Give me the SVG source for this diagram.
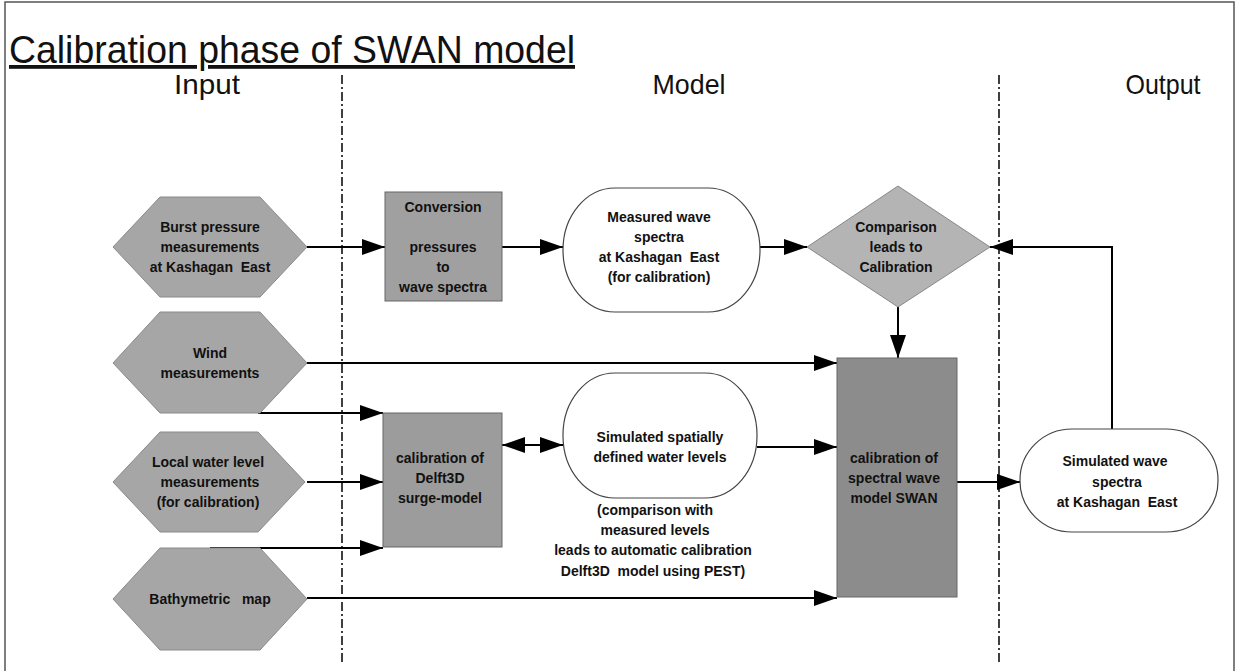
<svg xmlns="http://www.w3.org/2000/svg" width="1237" height="671" viewBox="0 0 1237 671">
<style>
.t{font-family:"Liberation Sans",Arial,sans-serif;font-size:14px;font-weight:bold;fill:#111;text-anchor:middle;white-space:pre}
.h{font-family:"Liberation Sans",Arial,sans-serif;font-size:28px;fill:#111;text-anchor:middle}
.hex{fill:#a6a6a6;stroke:#8a8a8a;stroke-width:1}
.box{stroke:#666;stroke-width:1}
.oval{fill:#fff;stroke:#444;stroke-width:1.2}
.c{fill:none;stroke:#000;stroke-width:2}
.div{stroke:#000;stroke-width:1.5;stroke-dasharray:9 3 2 3}
</style>
<defs>
<marker id="ah" markerUnits="userSpaceOnUse" markerWidth="24" markerHeight="18" refX="23" refY="9" orient="auto-start-reverse" viewBox="0 0 24 18"><path d="M0,1 L23,9 L0,17 z" fill="#000"/></marker>
</defs>
<rect width="1237" height="671" fill="#fff"/>
<rect x="5" y="2" width="1229" height="672" fill="none" stroke="#555" stroke-width="1.5"/>
<text x="9" y="63" font-family="'Liberation Sans',Arial,sans-serif" font-size="38" fill="#111" text-decoration="underline" textLength="566" lengthAdjust="spacingAndGlyphs">Calibration phase of SWAN model</text>
<g id="headers">
<text class="h" x="207" y="94" textLength="66" lengthAdjust="spacingAndGlyphs">Input</text>
<text class="h" x="689" y="94" textLength="73" lengthAdjust="spacingAndGlyphs">Model</text>
<text class="h" x="1163" y="94" textLength="75" lengthAdjust="spacingAndGlyphs">Output</text>
</g>
<g id="dividers">
<line class="div" x1="342" y1="75" x2="342" y2="664"/>
<line class="div" x1="999" y1="75" x2="999" y2="662"/>
</g>
<g id="connectors">
<path class="c" d="M307,247 H385" marker-end="url(#ah)"/>
<path class="c" d="M502,247 H563" marker-end="url(#ah)"/>
<path class="c" d="M760,247 H807" marker-end="url(#ah)"/>
<path class="c" d="M1112,429 V247 H990" marker-end="url(#ah)"/>
<path class="c" d="M307,363 H837" marker-end="url(#ah)"/>
<path class="c" d="M258,413 H383" marker-end="url(#ah)"/>
<path class="c" d="M307,482 H383" marker-end="url(#ah)"/>
<path class="c" d="M210,548 H383" marker-end="url(#ah)"/>
<path class="c" d="M307,598 H837" marker-end="url(#ah)"/>
<path class="c" d="M502,445 H563" marker-start="url(#ah)" marker-end="url(#ah)"/>
<path class="c" d="M757,447 H837" marker-end="url(#ah)"/>
<path class="c" d="M898,307 V358" marker-end="url(#ah)"/>
<path class="c" d="M957,482 H1020" marker-end="url(#ah)"/>
</g>
<g id="hex-burst">
<polygon class="hex" points="113,247 160,197 260,197 307,247 260,297 160,297"/>
<text class="t" x="210" y="232">Burst pressure</text>
<text class="t" x="210" y="252">measurements</text>
<text class="t" x="210" y="272">at Kashagan  East</text>
</g>
<g id="hex-wind">
<polygon class="hex" points="113,363 160,312 260,312 307,363 260,413 160,413"/>
<text class="t" x="210" y="358">Wind</text>
<text class="t" x="210" y="378">measurements</text>
</g>
<g id="hex-water">
<polygon class="hex" points="113,482 160,432 258,432 305,482 258,532 160,532"/>
<text class="t" x="208" y="467">Local water level</text>
<text class="t" x="210" y="487">measurements</text>
<text class="t" x="208" y="507">(for calibration)</text>
</g>
<g id="hex-bathy">
<polygon class="hex" points="113,599 160,548 260,548 307,599 260,650 160,650"/>
<text class="t" x="210" y="604">Bathymetric   map</text>
</g>
<g id="conversion">
<rect class="box" x="385" y="192" width="117" height="109" fill="#a0a0a0"/>
<text class="t" x="443" y="212">Conversion</text>
<text class="t" x="443" y="252">pressures</text>
<text class="t" x="443" y="272">to</text>
<text class="t" x="443" y="292">wave spectra</text>
</g>
<g id="delft3d">
<rect class="box" x="383" y="413" width="119" height="134" fill="#9c9c9c"/>
<text class="t" x="440" y="463">calibration of</text>
<text class="t" x="440" y="483">Delft3D</text>
<text class="t" x="440" y="503">surge-model</text>
</g>
<g id="measured">
<rect class="oval" x="563" y="188" width="197" height="124" rx="52" ry="62"/>
<text class="t" x="659" y="222">Measured wave</text>
<text class="t" x="659" y="242">spectra</text>
<text class="t" x="659" y="262">at Kashagan  East</text>
<text class="t" x="659" y="282">(for calibration)</text>
</g>
<g id="comparison">
<polygon points="807,247 898,186 990,247 898,307" fill="#b4b4b4" stroke="#888" stroke-width="1"/>
<text class="t" x="896" y="232">Comparison</text>
<text class="t" x="896" y="252">leads to</text>
<text class="t" x="896" y="272">Calibration</text>
</g>
<g id="simulated-levels">
<rect class="oval" x="563" y="373" width="194" height="125" rx="52" ry="62"/>
<text class="t" x="660" y="442">Simulated spatially</text>
<text class="t" x="660" y="462">defined water levels</text>
</g>
<g id="pest-note">
<text class="t" x="655" y="515">(comparison with</text>
<text class="t" x="655" y="535">measured levels</text>
<text class="t" x="653" y="555">leads to automatic calibration</text>
<text class="t" x="653" y="576">Delft3D  model using PEST)</text>
</g>
<g id="swan">
<rect class="box" x="837" y="358" width="120" height="239" fill="#8c8c8c"/>
<text class="t" x="894" y="463">calibration of</text>
<text class="t" x="894" y="483">spectral wave</text>
<text class="t" x="894" y="503">model SWAN</text>
</g>
<g id="simulated-spectra">
<rect class="oval" x="1020" y="429" width="198" height="103" rx="52" ry="51"/>
<text class="t" x="1115" y="466">Simulated wave</text>
<text class="t" x="1117" y="487">spectra</text>
<text class="t" x="1117" y="507">at Kashagan  East</text>
</g>
</svg>
